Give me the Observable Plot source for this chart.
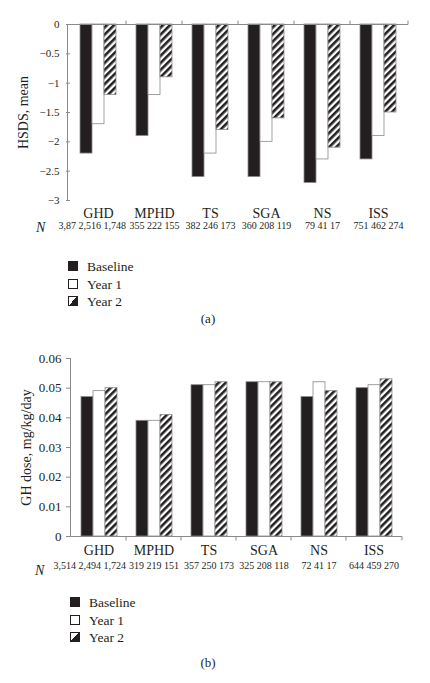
<!DOCTYPE html>
<html>
<head>
<meta charset="utf-8">
<script src="https://cdn.jsdelivr.net/npm/d3@7"></script>
<script src="https://cdn.jsdelivr.net/npm/@observablehq/plot@0.6"></script>
<style>
  html, body { margin: 0; padding: 0; background: #fff; }
  #page { position: relative; width: 430px; height: 683px; font-family: "Liberation Serif", "DejaVu Serif", serif; color: #231f20; overflow: hidden; }
  .abs { position: absolute; }
  .n { font-style: italic; font-size: 14px; line-height: 14px; }
  .leg { position: absolute; font-size: 13.5px; line-height: 16px; white-space: nowrap; }
  .sw { display: inline-block; width: 8px; height: 8px; border: 1px solid #231f20; vertical-align: 0px; margin-right: 9px; box-sizing: content-box; }
  .cap { position: absolute; font-size: 13px; width: 430px; text-align: center; left: -7px; }
</style>
</head>
<body>
<svg width="0" height="0" style="position:absolute">
  <defs>
    <pattern id="hatch" patternUnits="userSpaceOnUse" width="5" height="5" patternTransform="rotate(45)">
      <rect width="5" height="5" fill="#ffffff"></rect>
      <rect width="2.6" height="5" fill="#231f20"></rect>
    </pattern>
  </defs>
</svg>
<div id="page">
  <div id="chartA" class="abs" style="left:0;top:0"></div>
  <div id="chartB" class="abs" style="left:0;top:340px"></div>
</div>
<script>
// ---------- data ----------
const groups = ["GHD", "MPHD", "TS", "SGA", "NS", "ISS"];
const series = ["Baseline", "Year 1", "Year 2"];

// (a) HSDS, mean
const hsdsBaseline = [-2.2, -1.9, -2.6, -2.6, -2.7, -2.3];
const hsdsYear1    = [-1.7, -1.2, -2.2, -2.0, -2.3, -1.9];
const hsdsYear2    = [-1.2, -0.9, -1.8, -1.6, -2.1, -1.5];
const hsdsTicks    = [0, -0.5, -1, -1.5, -2, -2.5, -3];
const nA = [
  ["3,87", "2,516", "1,748"],
  ["355", "222", "155"],
  ["382", "246", "173"],
  ["360", "208", "119"],
  ["79", "41", "17"],
  ["751", "462", "274"]
];

// (b) GH dose, mg/kg/day
const doseBaseline = [0.047, 0.039, 0.051, 0.052, 0.047, 0.050];
const doseYear1    = [0.049, 0.039, 0.051, 0.052, 0.052, 0.051];
const doseYear2    = [0.050, 0.041, 0.052, 0.052, 0.049, 0.053];
const doseTicks    = [0, 0.01, 0.02, 0.03, 0.04, 0.05, 0.06];
const nB = [
  ["3,514", "2,494", "1,724"],
  ["319", "219", "151"],
  ["357", "250", "173"],
  ["325", "208", "118"],
  ["72", "41", "17"],
  ["644", "459", "270"]
];

const panels = [
  {id: "A", label: "(a)", yLabel: "HSDS, mean", values: [hsdsBaseline, hsdsYear1, hsdsYear2], ticks: hsdsTicks, n: nA},
  {id: "B", label: "(b)", yLabel: "GH dose, mg/kg/day", values: [doseBaseline, doseYear1, doseYear2], ticks: doseTicks, n: nB}
];

function rows(p) {
  const out = [];
  groups.forEach((g, i) => series.forEach((s, j) => out.push({group: g, series: s, value: p.values[j][i]})));
  return out;
}
function nRows(p) {
  return groups.map((g, i) => ({group: g, label: p.n[i].join(" "), first: i === 0}));
}
const fmt = d => (d < 0 ? "\u2212" : "") + String(+Math.abs(d).toFixed(4));

const GRAY = "#8a8a8a";
const INK = "#231f20";

function build(p, cfg) {
  const nr = nRows(p);
  const chart = Plot.plot({
    width: 430,
    height: 240,
    marginTop: cfg.mt,
    marginBottom: cfg.mb,
    marginLeft: cfg.ml,
    marginRight: cfg.mr,
    style: {fontFamily: "'Liberation Serif', 'DejaVu Serif', serif", color: INK, background: "transparent", overflow: "visible"},
    fx: {domain: groups, padding: 0, label: null},
    x: {domain: series, paddingInner: 0, paddingOuter: cfg.po, axis: null},
    y: {domain: d3.extent(p.ticks), label: null},
    color: {domain: series, range: [INK, "#ffffff", "url(#hatch)"]},
    marks: [
      Plot.barY(rows(p), {fx: "group", x: "series", y: "value", fill: "series", stroke: GRAY, strokeWidth: 0.8}),
      Plot.axisY({ticks: p.ticks, tickFormat: fmt, tickSize: cfg.ts, tickPadding: cfg.tpy, fontSize: cfg.tickFont, stroke: GRAY, fill: INK, label: null}),
      Plot.axisY({ticks: [], tickSize: 0, fontSize: 14, fill: INK,
                  label: p.yLabel, labelAnchor: "center", labelArrow: "none", labelOffset: cfg.lo}),
      Plot.axisFx({anchor: "bottom", tickSize: 0, tickPadding: cfg.tp, fontSize: 14, fill: INK, label: null}),
      Plot.text(nr.filter(d => !d.first), {fx: "group", text: "label", frameAnchor: "bottom", dy: cfg.ndy, fontSize: 10, fill: INK}),
      Plot.text(nr.filter(d => d.first), {fx: "group", text: "label", frameAnchor: "bottom-right", textAnchor: "end", dx: -0.5, dy: cfg.ndy, fontSize: 10, fill: INK})
    ]
  });
  // axis lines and group-boundary ticks, positioned with the chart's own scales
  const fx = chart.scale("fx"), y = chart.scale("y");
  const svg = d3.select(chart.tagName === "svg" ? chart : chart.querySelector("svg"));
  const x0 = fx.range[0], x1 = fx.range[1];
  const yBase = y.apply(cfg.baseline);
  const g = svg.append("g").attr("stroke", GRAY).attr("stroke-width", 1).attr("fill", "none");
  g.append("line").attr("x1", x0 + 0.5).attr("x2", x0 + 0.5)
    .attr("y1", y.apply(p.ticks[0])).attr("y2", y.apply(p.ticks[p.ticks.length - 1]));
  g.append("line").attr("x1", x0 - cfg.ext).attr("x2", x1).attr("y1", yBase + 0.5).attr("y2", yBase + 0.5);
  const edges = groups.slice(1).map(k => fx.apply(k)).concat([x1]);
  edges.forEach(ex => g.append("line").attr("x1", ex).attr("x2", ex)
    .attr("y1", yBase + 0.5).attr("y2", yBase + 0.5 + cfg.tickDir * 4));
  return chart;
}

const cfgs = {
  A: {mt: 24, mb: 40, ml: 67, mr: 22, po: 0.74, tickFont: 11, ts: 4, tpy: 7, lo: 52, tp: 8, ndy: 28.5, baseline: 0, tickDir: -1, ext: 0},
  B: {mt: 18, mb: 44, ml: 70, mr: 28, po: 0.66, tickFont: 13, ts: 5, tpy: 5, lo: 50, tp: 9, ndy: 32, baseline: 0, tickDir: 1, ext: 3}
};

panels.forEach(p => {
  document.getElementById("chart" + p.id).appendChild(build(p, cfgs[p.id]));
});

// legends, N labels and captions
const page = document.getElementById("page");
const swatch = {
  "Baseline": "background:" + INK,
  "Year 1": "background:#fff",
  "Year 2": "background:linear-gradient(to bottom right, #fff 50%, " + INK + " 50%)"
};
const layout = {
  A: {nx: 36, ny: 221, lx: 68, ly: 259, cy: 311},
  B: {nx: 35, ny: 564, lx: 70, ly: 595, cy: 655}
};
panels.forEach(p => {
  const L = layout[p.id];
  const n = document.createElement("div");
  n.className = "abs n"; n.style.left = L.nx + "px"; n.style.top = L.ny + "px"; n.textContent = "N";
  page.appendChild(n);
  series.forEach((s, i) => {
    const d = document.createElement("div");
    d.className = "leg";
    d.style.left = L.lx + "px";
    d.style.top = (L.ly + i * 17.5) + "px";
    d.innerHTML = '<span class="sw" style="' + swatch[s] + '"></span>' + s;
    page.appendChild(d);
  });
  const c = document.createElement("div");
  c.className = "cap"; c.style.top = L.cy + "px"; c.textContent = p.label;
  page.appendChild(c);
});
</script>
</body>
</html>
